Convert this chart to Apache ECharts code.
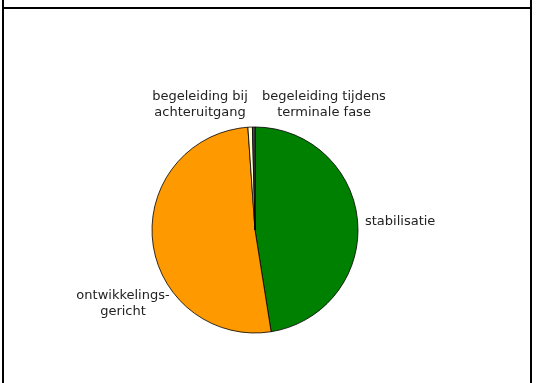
<!DOCTYPE html>
<html>
<head>
<meta charset="utf-8">
<script src="https://cdn.jsdelivr.net/npm/echarts@6/dist/echarts.min.js"></script>
<style>
  html, body { margin: 0; padding: 0; background: #fff; }
  #chart { width: 536px; height: 383px; }
</style>
</head>
<body>
<div id="chart"></div>
<script>
// Categories and shares (%) of the pie, clockwise from 12 o'clock
const categories = [
  'stabilisatie',
  'ontwikkelings-\ngericht',
  'begeleiding bij\nachteruitgang',
  'begeleiding tijdens\nterminale fase'
];
const values = [47.5, 51.4, 0.7, 0.4];
const colors = ['#008000', '#FF9900', '#FFFFCC', '#4D4D4D'];

// Label anchor points (center of each label block) in pixels
const labelSpots = [
  { x: 365, y: 222, align: 'left' },
  { x: 123, y: 304, align: 'center' },
  { x: 200, y: 105, align: 'center' },
  { x: 324, y: 105, align: 'center' }
];

const chart = echarts.init(document.getElementById('chart'), null, { renderer: 'canvas' });

chart.setOption({
  animation: false,
  backgroundColor: '#ffffff',
  graphic: [
    { type: 'line', shape: { x1: 3, y1: 0, x2: 3, y2: 383 }, style: { stroke: '#000', lineWidth: 2 } },
    { type: 'line', shape: { x1: 531, y1: 0, x2: 531, y2: 383 }, style: { stroke: '#000', lineWidth: 2 } },
    { type: 'line', shape: { x1: 3, y1: 8, x2: 531, y2: 8 }, style: { stroke: '#000', lineWidth: 2 } }
  ],
  series: [{
    type: 'pie',
    center: [255, 230],
    radius: [0, 103],
    startAngle: 90,
    clockwise: true,
    avoidLabelOverlap: false,
    minAngle: 0,
    itemStyle: { borderColor: '#000', borderWidth: 0.8 },
    emphasis: { disabled: true },
    label: {
      show: true,
      position: 'outside',
      formatter: '{b}',
      fontFamily: 'DejaVu Sans',
      fontSize: 13,
      lineHeight: 16,
      color: '#222'
    },
    labelLine: { show: false },
    labelLayout: function (params) {
      const s = labelSpots[params.dataIndex];
      return { x: s.x, y: s.y, align: s.align, verticalAlign: 'middle' };
    },
    data: categories.map((name, i) => ({
      name: name,
      value: values[i],
      itemStyle: { color: colors[i] }
    }))
  }]
});
</script>
</body>
</html>
